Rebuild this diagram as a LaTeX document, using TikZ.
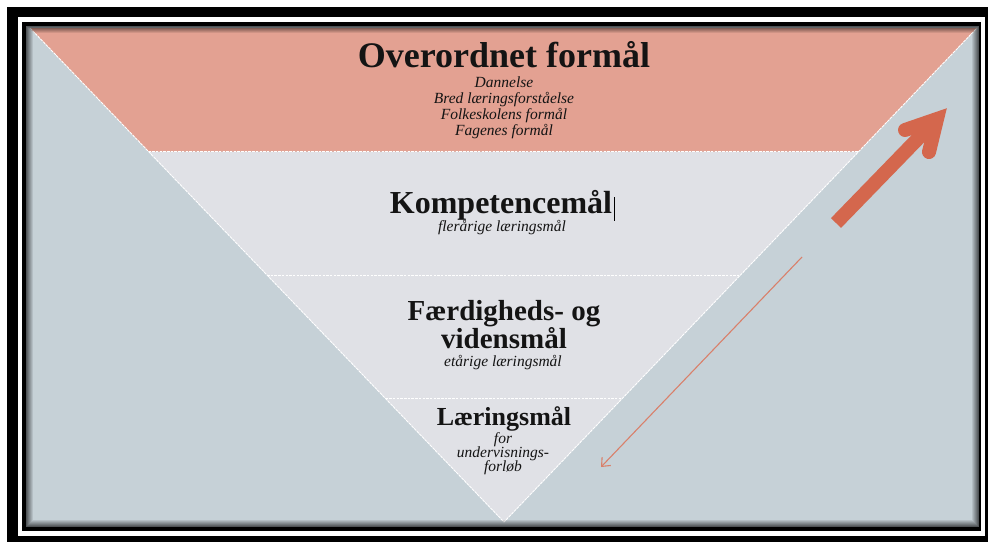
\documentclass[tikz,border=0pt]{standalone}
\usepackage{fontspec}
\setmainfont{Liberation Serif}
\usetikzlibrary{arrows.meta,calc}
\definecolor{salmon}{HTML}{E3A192}
\definecolor{bandgray}{HTML}{E0E1E6}
\definecolor{bggray}{HTML}{C6D1D7}
\definecolor{arrowred}{HTML}{D4674D}
\definecolor{thinred}{HTML}{D9806A}
\definecolor{txt}{HTML}{141414}
\tikzset{
  head/.style={text=txt, inner sep=0pt, anchor=base, font=\bfseries\fontsize{#1}{#1}\selectfont},
  sub/.style={text=txt, inner sep=0pt, anchor=base, font=\itshape\fontsize{15.5}{15.5}\selectfont},
  sep/.style={white, line width=0.8pt, dash pattern=on 2.5pt off 1.2pt},
}
\begin{document}
\begin{tikzpicture}[x=1pt,y=-1pt]
\useasboundingbox (0,0) rectangle (988,542);
% frame
\fill[white] (0,0) rectangle (988,542);
\fill[black] (7,7) rectangle (1000,542);
\fill[white] (18,17) rectangle (985,536);
\fill[black] (22,22) rectangle (981,531);
\fill[bggray] (26,26) rectangle (979,527);
% triangle
\coordinate (TL) at (30,28);
\coordinate (TR) at (977,28);
\coordinate (B) at (504,522);
\coordinate (L1) at ($(TL)!0.25!(B)$);
\coordinate (R1) at ($(TR)!0.25!(B)$);
\coordinate (L2) at ($(TL)!0.5!(B)$);
\coordinate (R2) at ($(TR)!0.5!(B)$);
\coordinate (L3) at ($(TL)!0.75!(B)$);
\coordinate (R3) at ($(TR)!0.75!(B)$);
\fill[bandgray] (L1) -- (R1) -- (B) -- cycle;
\fill[salmon] (TL) -- (TR) -- (R1) -- (L1) -- cycle;
\draw[sep] (L1) -- (R1);
\draw[sep] (L2) -- (R2);
\draw[sep] (L3) -- (R3);
\draw[white, line width=0.9pt, dash pattern=on 3pt off 0.8pt] (TL) -- (B) -- (TR);
% inner shadow
\foreach \i in {0,...,6} {
  \draw[black, opacity={0.6*(1-\i/7)}, line width=1pt]
    ({26+\i+0.5},{26+\i+0.5}) rectangle ({979-\i-0.5},{527-\i-0.5});
}
% texts
\node[head=36] (t1) at (504,67) {Overordnet formål};
\node[sub] (s1) at (504,87) {Dannelse};
\node[sub] (s2) at (504,103) {Bred læringsforståelse};
\node[sub] (s3) at (504,119) {Folkeskolens formål};
\node[sub] (s4) at (504,135) {Fagenes formål};
\node[head=32] (t2) at (501,213) {Kompetencemål};
\node[sub] (s5) at (502,231) {flerårige læringsmål};
\draw[black, line width=0.8pt] ([xshift=2pt]t2.east |- 0,197) -- ([xshift=2pt]t2.east |- 0,221);
\node[text=txt, inner sep=0pt, anchor=south, align=center,
      font=\bfseries\fontsize{29}{24}\selectfont] (t3) at (504,349) {Færdigheds- og\\vidensmål};
\node[sub] (s6) at (503,366) {etårige læringsmål};
\node[head=26] (t4) at (504,425) {Læringsmål};
\node[sub] (s7) at (503,443) {for};
\node[sub] (s8) at (503,457) {undervisnings-};
\node[sub] (s9) at (503,471) {forløb};
% arrows
\coordinate (up0) at (836,223);
\coordinate (upV) at (937,119);
\coordinate (upA) at (905,130);
\coordinate (upB) at (929,152);
\draw[arrowred, line width=14pt, line cap=butt] (up0) -- (upV);
\draw[arrowred, line width=14pt, line cap=round, line join=miter, miter limit=10] (upA) -- (upV) -- (upB);
\coordinate (dn0) at (802,257);
\coordinate (dn1) at (601,467);
\draw[thinred, line width=1.1pt, -{Straight Barb[length=7pt,width=12pt]}] (dn0) -- (dn1);
\end{tikzpicture}
\end{document}
